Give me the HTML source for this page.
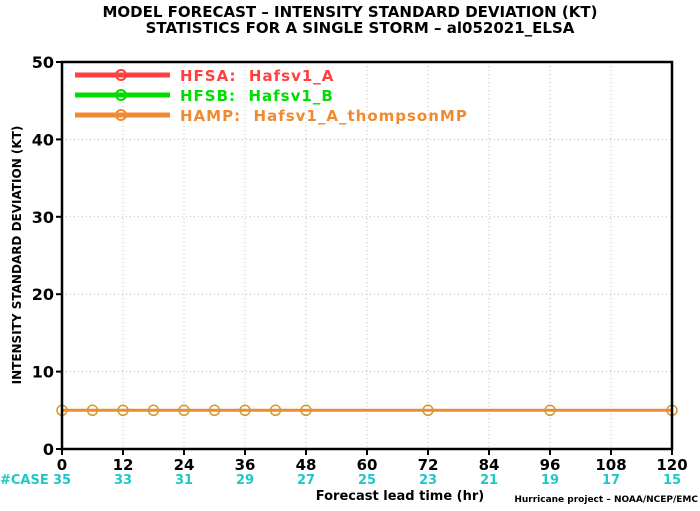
<!DOCTYPE html>
<html><head><meta charset="utf-8"><style>
body{margin:0;background:#fff;}
svg text{font-family:"DejaVu Sans","Liberation Sans",sans-serif;font-weight:bold;}
.lg{white-space:pre;letter-spacing:1px;}
</style></head><body>
<svg width="700" height="506" viewBox="0 0 700 506" id="c">
<text x="350" y="17" text-anchor="middle" font-size="15">MODEL FORECAST – INTENSITY STANDARD DEVIATION (KT)</text>
<text x="360" y="33" text-anchor="middle" font-size="15">STATISTICS FOR A SINGLE STORM – al052021_ELSA</text>
<g id="grid"></g>
<g id="series"></g>
<rect x="62" y="62" width="610" height="387" fill="none" stroke="#000" stroke-width="2.5"/>
<g id="axes"></g>
<text x="21" y="255" transform="rotate(-90 21 255)" text-anchor="middle" font-size="12">INTENSITY STANDARD DEVIATION (KT)</text>
<text x="0" y="484" font-size="13" fill="#1ec8c8">#CASE</text>
<text x="400" y="500" text-anchor="middle" font-size="13">Forecast lead time (hr)</text>
<text x="698" y="502" text-anchor="end" font-size="9">Hurricane project – NOAA/NCEP/EMC</text>
<g>
<line x1="75" y1="75" x2="170" y2="75" stroke="#ff4040" stroke-width="5"/><circle cx="121" cy="75" r="5" fill="none" stroke="#ff4040" stroke-width="2"/>
<text class="lg" x="180" y="81" font-size="15" fill="#ff4040">HFSA:  Hafsv1_A</text>
<line x1="75" y1="95" x2="170" y2="95" stroke="#00dd00" stroke-width="5"/><circle cx="121" cy="95" r="5" fill="none" stroke="#00dd00" stroke-width="2"/>
<text class="lg" x="180" y="101" font-size="15" fill="#00dd00">HFSB:  Hafsv1_B</text>
<line x1="75" y1="115" x2="170" y2="115" stroke="#f08a30" stroke-width="5"/><circle cx="121" cy="115" r="5" fill="none" stroke="#f08a30" stroke-width="2"/>
<text class="lg" x="180" y="121" font-size="15" fill="#f08a30">HAMP:  Hafsv1_A_thompsonMP</text>
</g>
</svg>
<script>
const xTicks=[0,12,24,36,48,60,72,84,96,108,120];
const yTicks=[0,10,20,30,40,50];
const caseCounts=[35,33,31,29,27,25,23,21,19,17,15];
const hampHours=[0,6,12,18,24,30,36,42,48,72,96,120];
const hampValues=[5,5,5,5,5,5,5,5,5,5,5,5];
const NS="http://www.w3.org/2000/svg";
const X=h=>62+h*610/120, Y=v=>449-v*387/50;
function mk(t,a,p){const e=document.createElementNS(NS,t);for(const k in a)e.setAttribute(k,a[k]);p.appendChild(e);return e;}
const grid=document.getElementById('grid'),axes=document.getElementById('axes'),ser=document.getElementById('series');
xTicks.forEach((t,i)=>{
 if(t>0&&t<120){const g=mk('line',{x1:X(t),x2:X(t),y1:62,y2:449,stroke:'#bbb','stroke-dasharray':'1,3'},grid);
 }
 const tk=mk('line',{x1:X(t),x2:X(t),y1:449,y2:455,stroke:'#000','stroke-width':2},axes);
 
 const l=mk('text',{x:X(t),y:470,'text-anchor':'middle','font-size':15},axes);l.textContent=t;
 
 const c=mk('text',{x:X(t),y:484,'text-anchor':'middle','font-size':13,fill:'#1ec8c8'},axes);c.textContent=caseCounts[i];
 
});
yTicks.forEach(v=>{
 if(v>0&&v<50){const g=mk('line',{x1:62,x2:672,y1:Y(v),y2:Y(v),stroke:'#bbb','stroke-dasharray':'1,3'},grid);
 }
 const tk=mk('line',{x1:56,x2:62,y1:Y(v),y2:Y(v),stroke:'#000','stroke-width':2},axes);
 
 const l=mk('text',{x:54,y:Y(v)+6,'text-anchor':'end','font-size':16},axes);l.textContent=v;
 
});
const pl=mk('polyline',{points:hampHours.map((h,i)=>X(h)+','+Y(hampValues[i])).join(' '),fill:'none',stroke:'#f08a30','stroke-width':3},ser);

hampHours.forEach((h,i)=>{const c=mk('circle',{cx:X(h),cy:Y(hampValues[i]),r:5,fill:'none',stroke:'#d09a30','stroke-width':1.5},ser);
 });
</script>
</body></html>
